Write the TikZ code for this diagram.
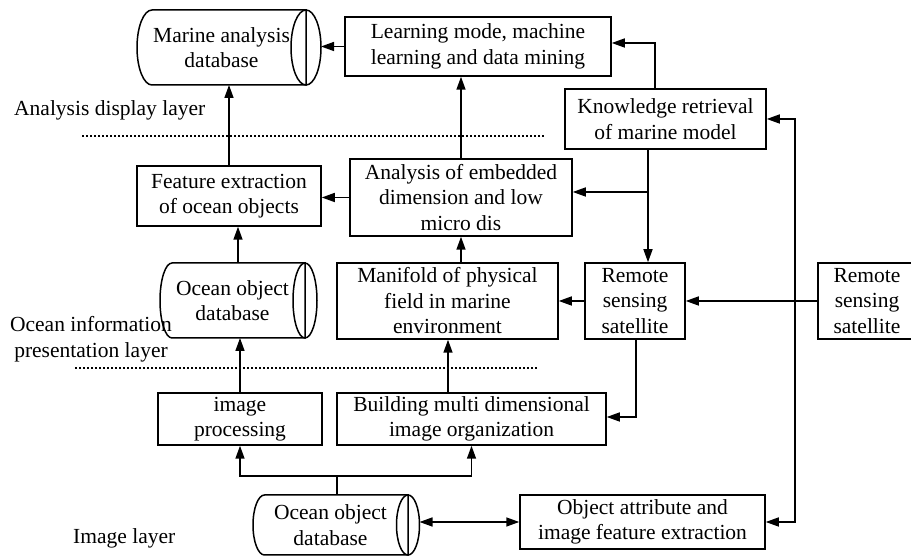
\documentclass[tikz,border=0pt]{standalone}
\usepackage{fontspec}
\setmainfont{Liberation Serif}
\usetikzlibrary{arrows.meta}
\tikzset{
  ln/.style={line width=1.5pt},
  box/.style={draw, line width=1.5pt, inner sep=0pt, align=center},
  cyl/.style={inner sep=0pt, outer sep=0pt, align=center},
  lbl/.style={inner sep=0pt, align=center},
  arr/.style={line width=1.5pt, -{Triangle[length=13pt,width=9pt]}},
  arrtwo/.style={line width=1.5pt, {Triangle[length=13pt,width=9pt]}-{Triangle[length=13pt,width=9pt]}},
  dotline/.style={line width=1.1pt, dash pattern=on 2pt off 2pt},
}
\begin{document}
\begin{tikzpicture}[x=1pt,y=1pt, font=\fontsize{21.5}{25.5}\selectfont]
\useasboundingbox (0,0) rectangle (911,556);

% cylinders (name nodes)
\node[cyl, minimum width=169pt, minimum height=75pt] (mdb) at (221.5,508.5) {Marine analysis\\database};
\node[cyl, minimum width=145pt, minimum height=75pt] (odb1) at (232.5,255.5) {Ocean object\\database};
\node[cyl, minimum width=155pt, minimum height=60pt] (odb2) at (330.5,31) {Ocean object\\database};

\draw[ln] (mdb.north east) -- ([xshift=15pt]mdb.north west) arc[start angle=90,end angle=270,x radius=15pt,y radius=37.5pt] -- (mdb.south east) -- cycle;
\draw[ln] (mdb.east) ellipse[x radius=15pt, y radius=37.5pt];
\draw[ln] (odb1.north east) -- ([xshift=12pt]odb1.north west) arc[start angle=90,end angle=270,x radius=12pt,y radius=37.5pt] -- (odb1.south east) -- cycle;
\draw[ln] (odb1.east) ellipse[x radius=12pt, y radius=37.5pt];
\draw[ln] (odb2.north east) -- ([xshift=11.5pt]odb2.north west) arc[start angle=90,end angle=270,x radius=11.5pt,y radius=30pt] -- (odb2.south east) -- cycle;
\draw[ln] (odb2.east) ellipse[x radius=11.5pt, y radius=30pt];

\coordinate (mdbR) at ([xshift=15pt]mdb.east);
\coordinate (odb2R) at ([xshift=11.5pt]odb2.east);

% boxes
\node[box, minimum width=266pt, minimum height=59pt] (learn) at (478,509.5) {Learning mode, machine\\learning and data mining};
\node[box, minimum width=201pt, minimum height=60pt] (know) at (665.5,437) {Knowledge retrieval\\of marine model};
\node[box, minimum width=184pt, minimum height=60pt] (feat) at (229,360) {Feature extraction\\of ocean objects};
\node[box, minimum width=222pt, minimum height=77pt] (anal) at (461,358.5) {Analysis of embedded\\dimension and low\\micro dis};
\node[box, minimum width=221pt, minimum height=76pt] (mani) at (447.5,255) {Manifold of physical\\field in marine\\environment};
\node[box, minimum width=100pt, minimum height=76pt] (rs1) at (635,255) {Remote\\sensing\\satellite};
\node[box, minimum width=98pt, minimum height=76pt] (rs2) at (867,255) {Remote\\sensing\\satellite};
\node[box, minimum width=164pt, minimum height=52pt] (imgp) at (240,137) {image\\processing};
\node[box, minimum width=269pt, minimum height=52pt] (build) at (471.5,137) {Building multi dimensional\\image organization};
\node[box, minimum width=245pt, minimum height=54pt] (obj) at (642.5,34) {Object attribute and\\image feature extraction};

% layer labels
\node[lbl, anchor=west] (l1) at (14,446) {Analysis display layer};
\node[lbl] (l2) at (91,216.5) {Ocean information\\presentation layer};
\node[lbl, anchor=west] (l3) at (73,18) {Image layer};

% dotted separators
\coordinate (d1a) at (82,420); \coordinate (d1b) at (545,420);
\coordinate (d2a) at (75,188); \coordinate (d2b) at (538,188);
\draw[dotline] (d1a) -- (d1b);
\draw[dotline] (d2a) -- (d2b);

% connectors
\draw[arr] (learn.west) -- (learn.west -| mdbR);
\draw[arr] (anal.north) -- (anal.north |- learn.south);
\draw[arr] ([xshift=-10.5pt]know.north) |- ([yshift=3.5pt]learn.east);
\coordinate (rtop) at (795,437);
\draw[arrtwo] (obj.east) -| (rtop) -- (know.east);
\coordinate (kb) at (648,407);
\coordinate (kbr) at (648,364);
\draw[arr] (kb) -- (kb |- rs1.north);
\draw[arr] (kbr) -- (kbr -| anal.east);
\draw[arr] (rs2.west) -- (rs1.east);
\draw[arr] (rs1.west) -- (rs1.west -| mani.east);
\draw[arr] ([xshift=1pt]rs1.south) |- ([yshift=2pt]build.east);
\draw[arr] (anal.south |- mani.north) -- (anal.south);
\draw[arr] ([xshift=0.5pt]mani.south |- build.north) -- ([xshift=0.5pt]mani.south);
\draw[arr] (feat.north) -- (feat.north |- mdb.south);
\draw[arr] (anal.west) -- (anal.west -| feat.east);
\draw[arr] ([xshift=5.5pt]odb1.north) -- ([xshift=5.5pt]odb1.north |- feat.south);
\draw[arr] (imgp.north) -- (imgp.north |- odb1.south);
\coordinate (split) at (337,80);
\draw[ln] ([xshift=6.5pt]odb2.north) -- (split);
\draw[arr] (split) -| (imgp.south);
\draw[arr] (split) -| (build.south);
\draw[arrtwo] (obj.west -| odb2R) -- (obj.west);
\end{tikzpicture}
\end{document}
